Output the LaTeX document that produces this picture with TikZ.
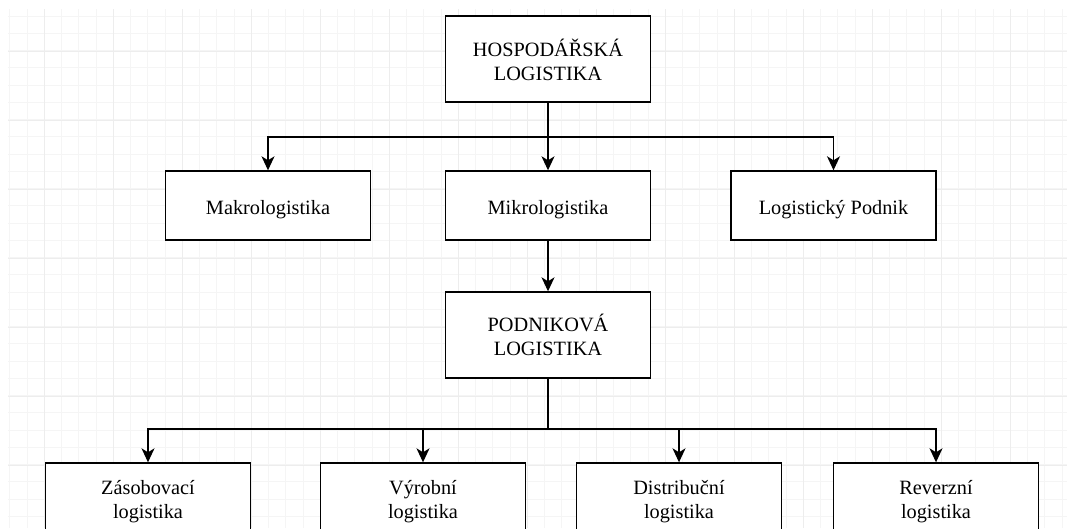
\documentclass[tikz,border=0pt]{standalone}
\usepackage{fontspec}
\setmainfont{Liberation Serif}
\usetikzlibrary{arrows.meta}
\tikzset{
  gridminor/.style={draw=black!4, line width=0.8pt},
  gridmajor/.style={draw=black!7, line width=0.8pt},
  box/.style={draw=black, line width=1.4pt, fill=white, inner sep=0pt,
    minimum width=205pt, align=center, text=black,
    font=\fontsize{20.3}{23.3}\selectfont},
  tallbox/.style={box, minimum height=86pt},
  flatbox/.style={box, minimum height=69pt, text height=22pt, text depth=5pt},
  conn/.style={draw=black, line width=1.4pt},
  arr/.style={conn, -{Stealth[length=14pt, width=13pt, inset=4pt]}}
}
\begin{document}
\begin{tikzpicture}[x=1pt, y=-1pt]
\useasboundingbox (0,0) rectangle (1067,528);
\clip (0,0) rectangle (1067,528);
\fill[white] (0,0) rectangle (1067,528);
% grid
\begin{scope}
\clip (8,9) rectangle (1067,528);
\foreach \i in {0,...,61}{
  \pgfmathsetmacro\gx{9.8+17.25*\i}
  \draw[gridminor] (\gx,9) -- (\gx,528);
}
\foreach \i in {0,...,29}{
  \pgfmathsetmacro\gy{16+17.25*\i}
  \draw[gridminor] (8,\gy) -- (1067,\gy);
}
\foreach \i in {0,...,15}{
  \pgfmathsetmacro\gx{44.3+69*\i}
  \draw[gridmajor] (\gx,9) -- (\gx,528);
}
\foreach \i in {0,...,6}{
  \pgfmathsetmacro\gy{51.3+69*\i}
  \draw[gridmajor] (8,\gy) -- (1067,\gy);
}
\end{scope}
% nodes
\node[tallbox, text height=48pt, text depth=6pt] (hosp) at (548,59) {HOSPODÁŘSKÁ\\LOGISTIKA};
\node[flatbox] (makro) at (268,205.5) {Makrologistika};
\node[flatbox] (mikro) at (548,205.5) {Mikrologistika};
\node[flatbox] (lpod) at (833.5,205.5) {Logistický Podnik};
\node[tallbox, text height=48pt, text depth=8pt] (podn) at (548,335) {PODNIKOVÁ\\LOGISTIKA};
\node[tallbox, text height=44pt, text depth=20pt] (zas) at (148,506) {Zásobovací\\logistika};
\node[tallbox, text height=44pt, text depth=20pt] (vyr) at (423,506) {Výrobní\\logistika};
\node[tallbox, text height=44pt, text depth=20pt] (dis) at (679,506) {Distribuční\\logistika};
\node[tallbox, text height=44pt, text depth=20pt] (rev) at (936,506) {Reverzní\\logistika};
% connectors
\coordinate (j1) at (548,137);
\coordinate (j2) at (548,429);
\draw[arr] (hosp.south) -- (mikro.north);
\draw[arr] (j1) -| (makro.north);
\draw[arr] (j1) -| (lpod.north);
\draw[arr] (mikro.south) -- (podn.north);
\draw[conn] (podn.south) -- (j2);
\draw[arr] (j2) -| (zas.north);
\draw[arr] (j2) -| (vyr.north);
\draw[arr] (j2) -| (dis.north);
\draw[arr] (j2) -| (rev.north);
\end{tikzpicture}
\end{document}
